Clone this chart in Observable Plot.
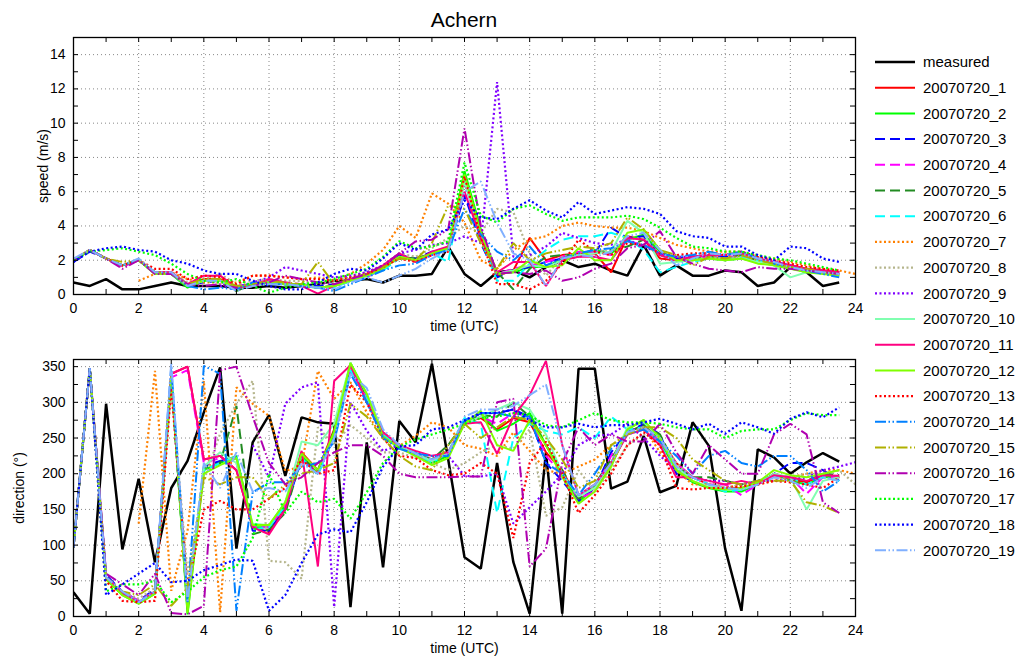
<!DOCTYPE html>
<html>
<head>
<meta charset="utf-8">
<script src="https://cdn.jsdelivr.net/npm/d3@7"></script>
<script src="https://cdn.jsdelivr.net/npm/@observablehq/plot@0.6"></script>
<style>
  body { margin: 0; background: #fff; font-family: "Liberation Sans", Arial, sans-serif; }
  #wrap { position: relative; width: 1021px; height: 657px; overflow: hidden; }
  #title { position: absolute; left: 73px; width: 782px; top: 8px; text-align: center; font-size: 21px; color: #000; }
  #p1 { position: absolute; left: 0; top: 30px; }
  #p2 { position: absolute; left: 0; top: 340px; }
  #legend { position: absolute; left: 865px; top: 40px; }
</style>
</head>
<body>
<div id="wrap">
  <div id="title">Achern</div>
  <div id="p1"></div>
  <div id="p2"></div>
  <div id="legend"></div>
</div>
<script>
// ---------- DATA ----------
const T = [0,0.5,1,1.5,2,2.5,3,3.5,4,4.5,5,5.5,6,6.5,7,7.5,8,8.5,9,9.5,10,10.5,11,11.5,
           12,12.5,13,13.5,14,14.5,15,15.5,16,16.5,17,17.5,18,18.5,19,19.5,20,20.5,21,21.5,22,22.5,23,23.5,24];

const names = ["measured","20070720_1","20070720_2","20070720_3","20070720_4","20070720_5","20070720_6",
  "20070720_7","20070720_8","20070720_9","20070720_10","20070720_11","20070720_12","20070720_13",
  "20070720_14","20070720_15","20070720_16","20070720_17","20070720_18","20070720_19"];

const xTicks = [0,2,4,6,8,10,12,14,16,18,20,22,24];
const speedTicks = [0,2,4,6,8,10,12,14];
const dirTicks = [0,50,100,150,200,250,300,350];

// speed (m/s)
const spMeasured = [0.7,0.5,0.9,0.3,0.3,0.5,0.7,0.5, 0.5,0.5,0.4,0.4,0.5,0.4,0.5,0.6, 0.8,0.8,0.9,0.7,1.1,1.1,1.2,2.8,
  1.2,0.5,1.3,1.4,1.0,1.6,2.0,1.6, 1.8,1.4,1.1,2.9,1.1,1.7,1.1,1.1, 1.4,1.3,0.5,0.7,1.6,1.3,0.5,0.7,null];
const sp1 = [2.0,2.6,2.1,1.7,2.0,1.3,1.3,0.6, 0.9,0.9,0.4,0.6,0.8,0.6,0.6,0.4, 0.5,0.8,1.1,1.6,2.3,1.9,2.4,2.6,
  6.8,3.4,1.1,1.4,3.3,2.0,2.3,2.4, 2.4,1.3,3.4,3.2,2.1,2.0,2.1,2.2, 2.1,2.3,2.0,1.8,1.7,1.5,1.4,1.3,null];
const sp2 = [2.0,2.6,2.1,1.7,2.0,1.2,1.2,0.4, 0.8,0.8,0.4,0.5,0.7,0.6,0.5,0.4, 0.5,0.8,1.1,1.5,2.2,2.0,2.4,2.7,
  7.2,3.8,1.2,1.3,1.6,1.6,2.1,2.2, 2.6,2.4,3.2,3.5,2.5,2.0,2.0,2.1, 2.0,2.1,1.9,1.7,1.5,1.4,1.3,1.2,null];
const sp3 = [1.9,2.5,2.1,1.7,2.0,1.3,1.2,0.6, 0.7,0.8,0.5,0.6,0.7,0.6,0.6,0.5, 0.6,0.9,1.2,1.6,2.3,2.1,2.5,2.6,
  5.8,3.0,1.0,1.4,1.6,1.9,2.1,2.2, 2.4,3.9,3.3,3.4,2.3,2.1,2.2,2.3, 2.2,2.4,2.1,1.9,1.7,1.4,1.3,1.1,null];
const sp4 = [2.0,2.6,2.1,1.6,2.0,1.3,1.3,0.6, 0.8,0.8,0.5,0.6,0.8,0.7,0.6,0.4, 0.5,0.8,1.0,1.5,2.1,2.0,2.3,2.7,
  6.5,3.6,1.2,1.5,1.7,1.9,2.2,2.5, 2.5,2.3,3.1,2.9,2.4,2.0,2.0,2.2, 2.1,2.3,2.1,1.9,1.6,1.5,1.4,1.2,null];
const sp5 = [2.0,2.6,2.1,1.7,2.0,1.3,1.2,0.5, 0.8,0.8,0.2,0.6,0.7,0.6,0.6,0.4, 0.5,0.8,1.1,1.5,2.2,2.1,2.4,2.6,
  6.6,3.7,1.3,0.3,1.5,2.2,2.3,2.3, 2.4,2.6,2.8,3.2,2.3,2.0,2.1,2.2, 2.1,2.3,2.0,1.8,1.6,1.4,1.3,1.2,null];
const sp6 = [2.0,2.6,2.1,1.7,2.0,1.3,1.3,0.6, 0.8,0.8,0.4,0.5,0.7,0.6,0.6,0.4, 0.4,0.8,1.1,1.4,2.1,2.0,2.4,1.9,
  6.7,3.2,0.8,0.8,1.8,2.6,3.2,3.4, 3.4,3.6,3.3,2.6,1.3,1.6,1.9,2.1, 2.1,2.2,2.0,1.8,1.6,1.4,1.3,1.2,null];
const sp7 = [null,null,null,null,0.8,1.2,1.3,0.9, 0.7,0.7,0.7,1.1,1.1,1.0,0.9,1.0, 0.8,1.2,1.8,2.6,4.0,3.3,5.9,5.3,
  4.2,2.0,1.5,2.6,3.2,3.4,4.0,4.2, 4.0,3.9,3.9,3.7,3.3,2.9,2.7,2.5, 2.5,2.5,2.2,2.1,1.9,1.7,1.5,1.4,1.2];
const sp8 = [2.0,2.6,2.1,1.7,2.0,1.3,1.3,0.7, 0.9,1.2,0.6,0.8,0.9,0.8,0.8,0.6, 0.8,1.0,1.3,1.7,2.4,2.2,2.7,3.3,
  4.0,3.6,5.0,4.8,2.4,1.1,2.2,2.4, 2.6,2.5,3.2,3.3,2.3,2.0,2.1,2.2, 2.1,2.2,2.0,1.8,1.6,1.5,1.4,1.3,null];
const sp9 = [null,null,null,null,null,null,null,null, null,0.5,0.4,0.7,1.0,1.6,1.4,1.2, 1.0,1.1,1.3,1.7,2.4,2.6,2.9,3.0,
  3.4,3.0,12.4,2.2,2.3,2.8,3.6,3.3, 3.0,2.9,3.2,2.8,2.4,2.2,2.2,2.3, 2.3,2.4,2.1,1.9,1.7,1.5,1.4,1.3,null];
const sp10 = [2.0,2.6,2.1,1.7,2.0,1.3,1.2,0.5, 0.8,0.8,0.4,0.5,0.7,0.6,0.6,0.4, 0.5,0.8,1.1,1.5,2.2,2.0,2.4,2.6,
  6.6,3.5,1.2,1.4,1.7,1.6,2.0,2.3, 2.4,2.5,4.3,3.6,1.8,1.9,2.0,2.1, 2.0,2.1,1.9,1.7,1.0,1.3,1.3,1.2,null];
const sp11 = [2.0,2.6,2.1,1.7,2.0,1.3,1.3,0.6, 1.1,1.1,0.4,0.5,0.9,0.7,0.5,0.05, 0.5,0.9,1.2,1.7,2.4,1.9,2.5,2.8,
  6.0,3.3,1.3,1.9,1.9,0.5,2.0,2.2, 2.2,2.0,3.3,3.2,2.3,2.0,2.2,2.3, 2.3,2.4,2.1,1.9,1.7,1.5,1.4,1.3,null];
const sp12 = [2.0,2.6,2.1,1.7,2.0,1.2,1.2,0.5, 0.8,0.8,0.4,0.6,0.7,0.6,0.6,0.4, 0.5,0.8,1.1,1.5,2.2,2.0,2.4,2.7,
  7.0,3.6,1.2,1.3,2.0,1.6,1.7,2.7, 2.0,2.0,3.6,3.8,2.6,2.0,2.0,2.1, 2.0,2.1,1.8,1.7,1.5,1.3,1.2,1.1,null];
const sp13 = [2.0,2.6,2.1,1.7,2.0,1.5,1.5,0.9, 1.1,1.0,0.6,1.1,1.1,1.0,0.9,0.9, 0.8,1.0,1.2,1.6,2.1,1.9,2.3,2.5,
  6.9,3.3,0.6,0.6,0.3,0.8,1.8,3.2, 2.5,2.3,3.0,2.9,2.4,2.3,2.4,2.4, 2.3,2.5,2.2,2.0,1.8,1.6,1.5,1.4,null];
const sp14 = [2.0,2.6,2.1,1.7,2.0,1.3,1.2,0.5, 0.3,0.4,0.3,0.7,0.6,0.6,0.5,0.4, 0.2,0.6,1.0,1.4,1.7,1.8,2.3,2.6,
  5.0,3.5,2.5,2.0,2.8,1.7,2.1,2.4, 2.6,2.7,3.1,2.9,2.4,2.2,2.3,2.5, 2.3,2.5,2.1,1.8,1.6,1.4,1.2,1.0,null];
const sp15 = [2.0,2.6,2.1,1.9,2.0,1.3,1.2,0.6, 0.9,0.9,0.5,0.6,0.8,0.7,0.6,1.9, 0.6,0.9,1.2,1.6,2.1,2.0,3.0,5.2,
  5.0,3.0,1.5,3.0,2.0,2.4,2.6,2.8, 2.7,3.0,4.5,3.8,2.6,2.3,1.7,2.2, 2.1,2.3,2.0,1.8,1.6,1.5,1.3,1.2,null];
const sp16 = [2.0,2.6,2.1,1.5,2.0,1.2,1.2,0.6, 0.5,0.6,0.4,0.5,0.7,1.1,0.9,0.7, 0.6,0.9,1.2,1.7,2.4,3.1,3.2,3.8,
  9.7,4.0,1.2,1.3,1.2,1.4,0.8,1.0, 1.5,1.8,2.7,2.9,3.7,2.2,1.8,1.5, 1.4,1.3,1.6,1.5,1.5,1.4,1.3,1.2,null];
const sp17 = [2.0,2.5,2.6,2.7,2.5,2.3,1.8,1.2, 0.8,0.7,0.9,0.5,0.1,0.4,0.6,0.7, 0.9,1.2,1.5,2.2,3.1,2.7,2.8,3.1,
  7.7,4.6,4.2,5.0,5.2,4.7,4.3,4.5, 4.5,4.5,4.6,4.4,3.9,3.3,2.8,2.7, 2.5,2.5,2.3,2.1,2.0,1.8,1.6,1.4,null];
const sp18 = [1.9,2.5,2.7,2.8,2.6,2.5,2.0,1.8, 1.4,1.2,1.2,0.8,0.5,0.3,0.3,0.7, 1.2,1.5,1.4,2.1,3.0,2.6,3.5,3.8,
  5.5,4.5,4.4,5.0,5.5,4.9,4.5,5.4, 4.7,4.9,5.1,5.0,4.7,3.7,3.4,3.3, 2.8,2.8,2.3,2.0,2.8,2.7,2.1,1.9,null];
const sp19 = [2.1,2.6,2.1,1.7,2.1,1.3,1.3,0.5, 0.8,0.8,0.2,0.5,0.6,0.6,0.5,0.4, 0.3,0.7,1.0,0.7,1.1,1.5,2.1,2.6,
  6.0,6.6,4.2,2.4,2.0,0.5,2.1,2.3, 2.2,2.5,3.4,3.6,2.6,1.7,2.1,2.4, 2.3,2.4,2.1,1.9,1.6,1.4,1.3,1.2,null];

// direction (degrees)
const dirMeasured = [34,4,298,94,193,76,180,218, 286,349,95,244,282,197,279,272, 270,13,244,69,274,244,354,220,
  83,67,215,76,4,230,4,347, 347,179,189,253,174,183,272,239, 95,8,234,223,200,216,229,217,null];
const dir1 = [97,348,55,32,20,35,340,350, 220,225,205,125,118,155,230,205, 262,352,310,258,240,228,220,230,
  272,278,262,278,272,230,205,162, 180,212,258,268,250,215,195,185, 180,180,185,198,192,188,198,195,null];
const dir2 = [97,348,52,30,18,32,338,3, 205,215,225,125,125,160,225,200, 260,355,310,250,238,225,215,225,
  272,285,260,270,285,240,200,160, 182,215,262,275,245,205,188,180, 175,175,185,200,190,185,195,195,null];
const dir3 = [97,348,58,35,22,38,335,10, 210,218,222,120,120,150,220,205, 255,345,305,255,238,228,218,228,
  272,285,285,290,280,215,190,162, 180,230,258,270,255,200,190,180, 180,178,185,200,215,215,205,190,null];
const dir4 = [97,348,55,35,22,35,335,345, 215,222,215,125,125,155,222,200, 255,345,305,255,238,225,218,228,
  270,280,270,285,280,225,200,165, 175,225,255,265,245,215,195,185, 185,170,185,200,195,172,195,195,null];
const dir5 = [97,348,55,32,20,35,335,10, 208,215,295,115,122,145,222,205, 255,345,310,255,238,228,220,240,
  272,282,280,300,280,240,205,165, 185,220,258,268,255,210,195,195, 190,185,190,198,195,190,200,198,null];
const dir6 = [97,348,55,32,20,35,338,20, 205,215,225,122,125,155,222,198, 250,345,305,255,238,230,215,230,
  278,270,145,250,270,260,255,265, 250,280,262,265,240,205,195,185, 175,178,188,198,195,185,195,190,null];
const dir7 = [null,null,null,null,130,344,36,120, 330,6,321,298,281,204,210,344, 305,328,286,249,239,253,272,265,
  240,235,225,258,232,205,200,210, 220,240,255,265,230,205,185,185, 180,185,185,190,195,200,205,205,200];
const dir8 = [97,348,55,35,25,40,320,60, 190,256,298,330,78,76,53,265, 240,268,250,230,230,222,215,205,
  215,230,240,235,262,141,153,205, 175,205,240,255,250,215,195,190, 180,185,190,195,195,200,200,205,185];
const dir9 = [null,null,null,null,null,null,null,null, null,null,null,240,195,298,321,328, 13,300,260,232,240,230,225,225,
  197,196,200,130,153,175,200,240, 253,255,270,250,225,205,195,190, 190,185,190,190,192,195,205,210,216];
const dir10 = [97,348,55,32,20,35,338,15, 210,230,215,130,128,160,245,240, 270,355,312,258,240,228,218,230,
  270,280,290,300,290,255,200,168, 180,215,265,272,250,210,190,182, 180,178,185,200,195,150,190,195,null];
const dir11 = [97,348,55,32,20,35,340,350, 220,225,205,125,115,150,232,70, 330,352,300,258,240,232,225,230,
  270,272,228,280,310,358,240,170, 185,215,255,262,240,195,195,190, 185,190,185,198,195,190,198,197,null];
const dir12 = [97,348,52,30,18,32,336,5, 200,212,222,128,128,160,228,205, 258,355,312,252,236,225,212,222,
  270,288,240,232,275,240,195,158, 175,210,262,275,250,205,190,180, 178,180,188,205,198,195,200,205,null];
const dir13 = [97,348,50,22,20,22,320,40, 150,162,150,150,165,180,220,200, 205,325,300,250,225,222,205,198,
  200,215,200,110,215,245,200,145, 170,200,240,258,240,180,178,180, 180,182,185,190,188,185,180,195,null];
const dir14 = [97,348,55,35,20,35,350,20, 351,340,8,174,188,188,210,215, 245,340,300,250,235,228,225,225,
  275,285,285,280,280,215,200,170, 200,235,255,262,245,225,200,225, 232,215,210,225,225,205,175,190,null];
const dir15 = [97,348,55,35,30,45,15,40, 195,185,195,195,165,185,200,205, 215,298,280,250,225,210,205,240,
  270,250,265,280,275,250,220,180, 190,240,255,265,265,250,220,205, 190,185,190,190,190,160,155,145,null];
const dir16 = [97,348,60,45,30,60,5,3, 15,345,350,280,215,185,195,215, 230,240,240,225,200,195,195,195,
  196,196,300,305,70,95,215,265, 240,255,245,245,270,230,200,240, 220,200,200,255,270,255,160,145,null];
const dir17 = [97,348,35,45,45,50,20,35, 55,65,70,110,200,145,175,160, 165,137,174,215,238,248,255,262,
  270,278,280,285,282,268,265,275, 285,275,272,272,270,265,262,262, 250,260,262,262,275,285,282,282,null];
const dir18 = [97,348,30,45,60,75,48,50, 65,72,80,78,8,30,75,115, 122,118,160,210,238,240,262,265,
  275,285,285,290,275,265,265,270, 265,268,268,272,277,270,262,270, 256,272,265,256,277,286,279,293,null];
const dir19 = [97,348,55,35,20,35,355,20, 215,180,230,175,180,175,215,200, 250,340,320,262,240,228,220,228,
  280,290,290,295,310,325,240,170, 185,215,258,265,250,210,195,185, 180,178,185,195,190,180,195,190,null];

const speedSeries = [spMeasured,sp1,sp2,sp3,sp4,sp5,sp6,sp7,sp8,sp9,sp10,sp11,sp12,sp13,sp14,sp15,sp16,sp17,sp18,sp19];
const dirSeries = [dirMeasured,dir1,dir2,dir3,dir4,dir5,dir6,dir7,dir8,dir9,dir10,dir11,dir12,dir13,dir14,dir15,dir16,dir17,dir18,dir19];

// ---------- STYLES ----------
const DASH = "10,5", DOT = "2,2.5", DASHDOT = "11,2.5,1.5,2.5,1.5,2.5";
const styles = [
  {c:"#000000", d:null, w:2.5},
  {c:"#ff0000", d:null, w:2},
  {c:"#00ff00", d:null, w:2},
  {c:"#0000ff", d:DASH, w:2},
  {c:"#ff00ff", d:DASH, w:2},
  {c:"#228b22", d:DASH, w:2},
  {c:"#00ffff", d:DASH, w:2},
  {c:"#ff8000", d:DOT, w:2.2},
  {c:"#b5b58c", d:DOT, w:2.2},
  {c:"#8000ff", d:DOT, w:2.2},
  {c:"#80ffb0", d:null, w:2},
  {c:"#ff0080", d:null, w:2},
  {c:"#80ff00", d:null, w:2},
  {c:"#ff0000", d:DOT, w:2.2},
  {c:"#0080ff", d:DASHDOT, w:2},
  {c:"#b0b000", d:DASHDOT, w:2},
  {c:"#b000b0", d:DASHDOT, w:2},
  {c:"#00ff00", d:DOT, w:2.2},
  {c:"#0000ff", d:DOT, w:2.2},
  {c:"#80b0ff", d:DASHDOT, w:2}
];

const FONT = "'Liberation Sans', Arial, Helvetica, sans-serif";

function panel({series, yDomain, yTicks, yMinor, yLabel, yLabelOffset, height, marginTop, marginBottom}) {
  const W = 870, ML = 73, MR = 15;
  const fw = W - ML - MR, fh = height - marginTop - marginBottom;
  const xMinor = d3.range(0, 25, 1);
  const lines = series.map((arr, k) => Plot.line(T.map((t, i) => ({t, v: arr[i]})), {
    x: "t", y: "v", stroke: styles[k].c, strokeWidth: styles[k].w,
    strokeDasharray: styles[k].d || undefined, strokeLinejoin: "miter", strokeLinecap: "butt"
  }));
  return Plot.plot({
    width: W, height, marginLeft: ML, marginRight: MR, marginTop, marginBottom,
    style: {fontFamily: FONT, fontSize: "14px", color: "#000", background: "transparent", overflow: "visible"},
    x: {domain: [0, 24]},
    y: {domain: yDomain},
    clip: true,
    marks: [
      Plot.gridX(xTicks.slice(1, -1), {stroke: "#888", strokeOpacity: 1, strokeDasharray: "1,3"}),
      Plot.gridY(yTicks.slice(1), {stroke: "#888", strokeOpacity: 1, strokeDasharray: "1,3"}),
      ...lines,
      Plot.ruleX(xMinor, {stroke: "#000", insetTop: fh - 5, clip: false}),
      Plot.ruleX(xMinor, {stroke: "#000", insetBottom: fh - 5, clip: false}),
      Plot.ruleY(yMinor, {stroke: "#000", insetRight: fw - 5, clip: false}),
      Plot.ruleY(yMinor, {stroke: "#000", insetLeft: fw - 5, clip: false}),
      Plot.frame({stroke: "#000", strokeWidth: 1.3}),
      Plot.axisX(xTicks, {tickSize: 0, tickPadding: 9, fontSize: 14, label: "time (UTC)", labelAnchor: "center", labelArrow: "none", labelOffset: 36}),
      Plot.axisY(yTicks, {tickSize: 0, tickPadding: 8, fontSize: 14, label: yLabel, labelAnchor: "center", labelArrow: "none", labelOffset: yLabelOffset})
    ]
  });
}

document.getElementById("p1").append(panel({
  series: speedSeries, yDomain: [0, 15], yTicks: speedTicks, yMinor: d3.range(0, 16, 1),
  yLabel: "speed (m/s)", yLabelOffset: 35, height: 305, marginTop: 7, marginBottom: 41
}));
document.getElementById("p2").append(panel({
  series: dirSeries, yDomain: [0, 360], yTicks: dirTicks, yMinor: d3.range(0, 361, 25),
  yLabel: "direction (°)", yLabelOffset: 59, height: 317, marginTop: 19, marginBottom: 41
}));

// ---------- LEGEND ----------
const lg = d3.select("#legend").append("svg").attr("width", 156).attr("height", 520)
  .style("font-family", FONT).style("font-size", "15px");
names.forEach((n, i) => {
  const y = 22 + i * 25.7;
  lg.append("line").attr("x1", 10).attr("x2", 50).attr("y1", y).attr("y2", y)
    .attr("stroke", styles[i].c).attr("stroke-width", styles[i].w)
    .attr("stroke-dasharray", styles[i].d);
  lg.append("text").attr("x", 58).attr("y", y).attr("dy", "0.35em").attr("fill", "#000").text(n);
});
</script>
</body>
</html>
